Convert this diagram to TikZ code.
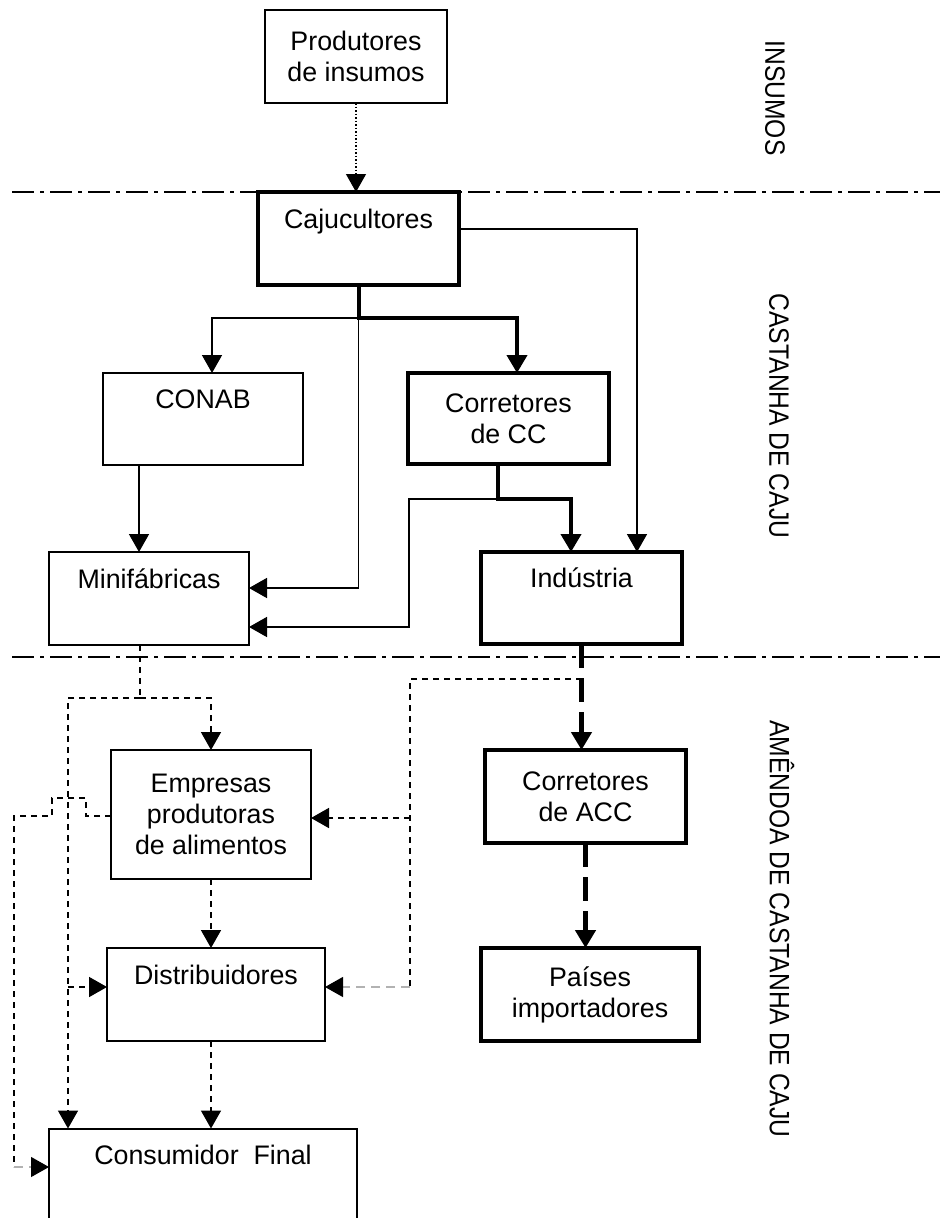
\documentclass[tikz,border=0pt]{standalone}
\usepackage{fontspec}
\setmainfont{Liberation Sans}
\newfontfamily\sidefont[FakeStretch=0.88]{Liberation Sans}
\usetikzlibrary{arrows.meta}

\begin{document}
\begin{tikzpicture}[x=1pt,y=-1pt,>={Triangle[length=18pt,width=20pt]},
  box/.style={draw,line width=2pt,align=center,inner sep=0pt,outer sep=0pt,font=\fontsize{26.8}{31}\selectfont},
  heavybox/.style={box,line width=4.5pt},
  flow/.style={->,line width=1.6pt},
  heavyflow/.style={->,line width=4pt},
  flowdot/.style={->,line width=1.3pt,dash pattern=on 1.5pt off 2pt},
  flowdash/.style={line width=1.6pt,dash pattern=on 6pt off 5pt},
  heavydash/.style={line width=4.5pt,dash pattern=on 24pt off 10pt},
  flowgray/.style={-{Triangle[length=18pt,width=20pt,color=black]},draw=black!30,line width=1.2pt,dash pattern=on 9pt off 6pt},
  divider/.style={line width=1.6pt,dash pattern=on 22pt off 6pt on 4pt off 6pt},
  sidelabel/.style={rotate=-90,font=\sidefont\fontsize{28}{32}\selectfont}]
\useasboundingbox (0,0) rectangle (940,1218);

% faixas
\draw[divider] (12,192) -- (940,192);
\draw[divider] (12,657) -- (940,657);
\node[sidelabel] (lins) at (775,98) {INSUMOS};
\node[sidelabel] (lcast) at (779,416) {CASTANHA DE CAJU};
\node[sidelabel] (lamen) at (782,929) {AMÊNDOA DE CASTANHA DE CAJU};

% caixas
\node[box,minimum width=182,minimum height=93] (prod) at (356,56.5) {Produtores\\de insumos};
\node[heavybox,minimum width=201,minimum height=93] (caju) at (358.5,238.5) {Cajucultores\\\strut};
\node[box,minimum width=200,minimum height=92] (conab) at (203,419) {CONAB\\\strut};
\node[heavybox,minimum width=201,minimum height=91] (corcc) at (508.5,418.5) {Corretores\\de CC};
\node[box,minimum width=200,minimum height=93] (mini) at (149,598.5) {Minifábricas\\\strut};
\node[heavybox,minimum width=201,minimum height=92] (ind) at (581.5,598) {Indústria\\\strut};
\node[box,minimum width=200,minimum height=129] (emp) at (211,814.5) {Empresas\\produtoras\\de alimentos};
\node[heavybox,minimum width=201,minimum height=93] (coracc) at (585.5,796.5) {Corretores\\de ACC};
\node[box,minimum width=218,minimum height=93] (dist) at (216,994.5) {Distribuidores\\\strut};
\node[heavybox,minimum width=218,minimum height=93] (paises) at (590,994.5) {Países\\importadores};
\node[box,minimum width=308,minimum height=93] (cons) at (203,1175) {Consumidor~~Final\\\strut};

% castanha
\draw[flowdot] (prod.south) -- (prod.south |- caju.north);
\coordinate (cajusplit) at ([yshift=-33]caju.south);
\draw[heavyflow] (caju.south) -- (cajusplit) -| ([xshift=8.5]corcc.north);
\draw[flow] (cajusplit) -| ([xshift=9]conab.north);
\draw[flow] (cajusplit) |- ([yshift=10.5]mini.east);
\draw[flow] ([yshift=9.5]caju.east) -| ([xshift=55.5]ind.north);
\coordinate (ccsplit) at ([xshift=-10.5,yshift=-35]corcc.south);
\coordinate (ccbend) at (409,0);
\draw[heavyflow] ([xshift=-10.5]corcc.south) -- (ccsplit) -| ([xshift=-10.5]ind.north);
\draw[flow] (ccsplit) -- (ccsplit -| ccbend) |- ([yshift=-28.5]mini.east);
\draw[flow] ([xshift=-64]conab.south) -- ([xshift=-10]mini.north);

% amendoa
\coordinate (minisplit) at (140,698);
\coordinate (leftrail) at (68,698);
\coordinate (consin) at ([yshift=8]cons.west);
\coordinate (distin) at ([yshift=7.5]dist.east);
\coordinate (empin) at ([yshift=-3.5]emp.east);
\draw[flowdash] ([xshift=-9]mini.south) -- (minisplit);
\draw[flowdash,->] (minisplit) -| (emp.north);
\draw[flowdash,->] (minisplit) -| ([xshift=-135]cons.north);
\draw[flowdash,->] ([yshift=7.5]dist.west -| leftrail) -- ([yshift=7.5]dist.west);
\draw[flowdash,->] (emp.south) -- (emp.south |- dist.north);
\draw[flowdash,->] (emp.south |- dist.south) -- (emp.south |- cons.north);
\draw[flowdash] ([yshift=-1.5]emp.west) -- ++(-25,0) -- ++(0,-18) -- ++(-34,0) -- ++(0,18)
  -- ++(-38,0) coordinate (hopend) -- (hopend |- consin);
\draw[flowgray] (hopend |- consin) -- (consin);

\coordinate (indsplit) at (582,679);
\coordinate (rightrail) at (410,679);
\draw[heavydash,->] (ind.south) -- (ind.south |- coracc.north);
\draw[flowdash] (indsplit) -- (rightrail) -- (rightrail |- distin);
\draw[flowgray] (rightrail |- distin) -- (distin);
\draw[flowdash,->] (rightrail |- empin) -- (empin);
\draw[heavydash,->] (coracc.south) -- (coracc.south |- paises.north);
\end{tikzpicture}
\end{document}
